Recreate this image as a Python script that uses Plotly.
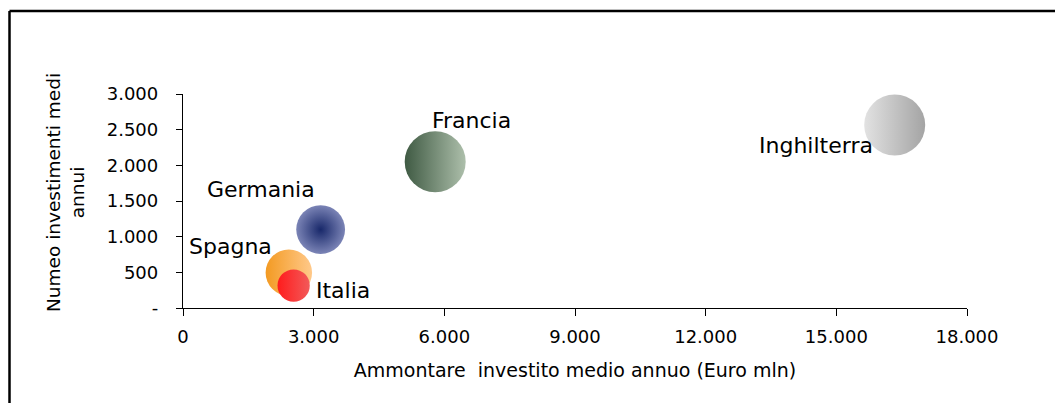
import plotly.graph_objects as go

# Paesi e valori medi annui
paesi = ["Inghilterra", "Francia", "Germania", "Spagna", "Italia"]
ammontare = [16340, 5790, 3160, 2430, 2540]     # Euro mln
numero = [2565, 2050, 1100, 495, 315]           # investimenti medi annui
peso = [100, 100, 64, 58, 28]                   # dimensione relativa della bolla

x_ticks = [0, 3000, 6000, 9000, 12000, 15000, 18000]
x_ticktext = ["0", "3.000", "6.000", "9.000", "12.000", "15.000", "18.000"]
y_ticks = [0, 500, 1000, 1500, 2000, 2500, 3000]
y_ticktext = ["-", "500", "1.000", "1.500", "2.000", "2.500", "3.000"]

# colori: base e sfumatura di ciascuna bolla
col_base = ["#e2e2e2", "#3f5a43", "#7b84b6", "#f39a22", "#ff1c1c"]
col_sfum = ["#a4a4a4", "#adbfab", "#18286a", "#ffc98a", "#f25a5a"]
tipo_sfum = ["horizontal", "horizontal", "radial", "horizontal", "horizontal"]

FONT = "DejaVu Sans"
W, H = 1055, 403
L, R, T, B = 183, 88, 94, 95
MAX_D = 61

fig = go.Figure()
fig.add_trace(go.Scatter(
    x=ammontare, y=numero, mode="markers",
    marker=dict(
        size=peso, sizemode="area", sizeref=2 * max(peso) / MAX_D ** 2,
        color=col_base, opacity=1, line=dict(width=0),
        gradient=dict(type=tipo_sfum, color=col_sfum),
    ),
    hoverinfo="skip", showlegend=False,
))

# etichette dei paesi (spostamento in pixel rispetto al centro della bolla)
offset = {
    "Inghilterra": (-79, -20),
    "Francia": (36, 41),
    "Germania": (-60, 40),
    "Spagna": (-58, 26),
    "Italia": (49, -5),
}
for p, xv, yv in zip(paesi, ammontare, numero):
    dx, dy = offset[p]
    fig.add_annotation(x=xv, y=yv, text=p, showarrow=False,
                       xanchor="center", yanchor="middle",
                       xshift=dx, yshift=dy,
                       font=dict(family=FONT, size=22, color="black"))

# titolo asse verticale
fig.add_annotation(xref="paper", yref="paper", x=0, y=0.5,
                   text="Numeo investimenti medi<br>annui", textangle=-90,
                   showarrow=False, xanchor="center", yanchor="middle",
                   xshift=65 - L, yshift=8,
                   font=dict(family=FONT, size=18.5, color="black"))

pw, ph = W - L - R, H - T - B
# cornice del grafico
fig.add_shape(type="line", xref="paper", yref="paper",
              x0=(9.5 - L) / pw, x1=(9.5 - L) / pw,
              y0=(H - B - 11) / ph, y1=(H - B - 420) / ph,
              line=dict(color="black", width=2.5))
fig.add_shape(type="line", xref="paper", yref="paper",
              x0=(9.5 - L) / pw, x1=(1070 - L) / pw,
              y0=(H - B - 11) / ph, y1=(H - B - 11) / ph,
              line=dict(color="black", width=2.5))

fig.update_xaxes(range=[0, 18000], tickvals=x_ticks, ticktext=x_ticktext,
                 showgrid=False, zeroline=False, showline=True,
                 linecolor="black", linewidth=1.3, ticks="outside",
                 ticklen=7, tickcolor="black", tickwidth=1.3,
                 ticklabelstandoff=5,
                 tickfont=dict(family=FONT, size=18, color="black"),
                 title=dict(text="Ammontare  investito medio annuo (Euro mln)",
                            font=dict(family=FONT, size=19, color="black"),
                            standoff=17))
fig.update_yaxes(range=[0, 3000], tickvals=y_ticks, ticktext=y_ticktext,
                 showgrid=False, zeroline=False, showline=True,
                 linecolor="black", linewidth=1.3, ticks="outside",
                 ticklen=6, tickcolor="black", tickwidth=1.3,
                 ticklabelstandoff=14,
                 tickfont=dict(family=FONT, size=18, color="black"))

fig.update_layout(width=W, height=H, margin=dict(l=L, r=R, t=T, b=B),
                  plot_bgcolor="white", paper_bgcolor="white",
                  separators=",.")
fig.write_html("out.html")
